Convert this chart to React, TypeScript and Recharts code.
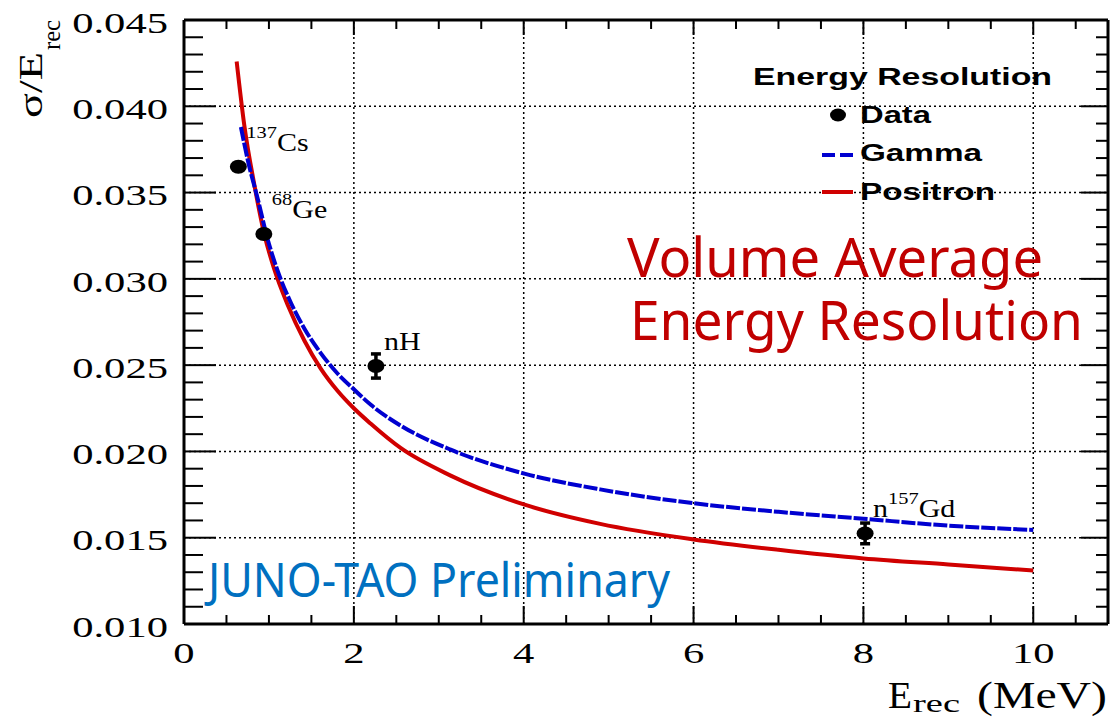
import React from "react"
import {
  ComposedChart,
  Line,
  Scatter,
  XAxis,
  YAxis,
  ReferenceLine,
  ErrorBar
} from "recharts"

const W = 1115
const H = 717

// values (E in MeV, sigma/E)
const positronCurve = [
  { x: 0.62, y: 0.0426 },
  { x: 0.71, y: 0.0389 },
  { x: 0.83, y: 0.0354 },
  { x: 0.945, y: 0.0326 },
  { x: 1.06, y: 0.0306 },
  { x: 1.22, y: 0.0285 },
  { x: 1.42, y: 0.0264 },
  { x: 1.61, y: 0.0248 },
  { x: 1.81, y: 0.0235 },
  { x: 2.0, y: 0.0225 },
  { x: 2.2, y: 0.0216 },
  { x: 2.55, y: 0.0202 },
  { x: 3.14, y: 0.0186 },
  { x: 4.02, y: 0.0169 },
  { x: 4.9, y: 0.0158 },
  { x: 6.0, y: 0.0149 },
  { x: 7.0, y: 0.0143 },
  { x: 8.0, y: 0.0138 },
  { x: 9.0, y: 0.01345 },
  { x: 10.0, y: 0.0131 }
]

const gammaCurve = [
  { x: 0.67, y: 0.0388 },
  { x: 0.75, y: 0.0369 },
  { x: 0.87, y: 0.0346 },
  { x: 0.985, y: 0.0323 },
  { x: 1.1, y: 0.0305 },
  { x: 1.26, y: 0.0286 },
  { x: 1.42, y: 0.0271 },
  { x: 1.61, y: 0.0257 },
  { x: 1.81, y: 0.0245 },
  { x: 2.0, y: 0.0236 },
  { x: 2.2, y: 0.0227 },
  { x: 2.55, y: 0.0215 },
  { x: 3.14, y: 0.0201 },
  { x: 4.02, y: 0.0187 },
  { x: 4.9, y: 0.0178 },
  { x: 6.0, y: 0.017 },
  { x: 7.0, y: 0.0165 },
  { x: 8.0, y: 0.0161 },
  { x: 9.0, y: 0.0157 },
  { x: 10.0, y: 0.01545 }
]

const dataPoints = [
  { x: 0.64, y: 0.0365, err: 0, pre: "", sup: "137", main: "Cs" },
  { x: 0.94, y: 0.0326, err: 0.0002, pre: "", sup: "68", main: "Ge" },
  { x: 2.26, y: 0.02495, err: 0.0007, pre: "", sup: "", main: "nH" },
  { x: 8.02, y: 0.01525, err: 0.0006, pre: "n", sup: "157", main: "Gd" }
]

const xTicks = [0, 0.5, 1, 1.5, 2, 2.5, 3, 3.5, 4, 4.5, 5, 5.5, 6, 6.5, 7, 7.5, 8, 8.5, 9, 9.5, 10, 10.5]
const yTicks = Array.from({ length: 36 }, (_, i) => Math.round((0.01 + i * 0.001) * 1000) / 1000)
const gridX = [2, 4, 6, 8, 10]
const gridY = [0.015, 0.02, 0.025, 0.03, 0.035, 0.04]

const SERIF = "'Liberation Serif', 'Times New Roman', serif"
const SANS = "'Liberation Sans', Arial, sans-serif"
const NOTE = "'Noto Sans', 'Open Sans', sans-serif"

const isMajorX = (v: number) => Math.abs(v / 2 - Math.round(v / 2)) < 1e-6
const isMajorY = (v: number) => Math.round(v * 1000) % 5 === 0

const BottomTick = (props: any) => {
  const { x, y, payload } = props
  const major = isMajorX(payload.value)
  return (
    <g>
      <line x1={x} x2={x} y1={y} y2={y - (major ? 18 : 9)} stroke="#000" strokeWidth={2} />
      {major && (
        <text transform={`translate(${x},${y + 39}) scale(1.42,1)`} textAnchor="middle"
          fontFamily={SERIF} fontSize={30} fill="#000">
          {payload.value}
        </text>
      )}
    </g>
  )
}

const TopTick = (props: any) => {
  const { x, y, payload } = props
  const major = isMajorX(payload.value)
  return <line x1={x} x2={x} y1={y} y2={y + (major ? 15 : 9)} stroke="#000" strokeWidth={2} />
}

const LeftTick = (props: any) => {
  const { x, y, payload } = props
  const major = isMajorY(payload.value)
  return (
    <g>
      <line x1={x} x2={x + (major ? 32 : 19)} y1={y} y2={y} stroke="#000" strokeWidth={2} />
      {major && (
        <text transform={`translate(${x - 16},${y + 2.5}) scale(1.42,1)`} textAnchor="end"
          dominantBaseline="central" fontFamily={SERIF} fontSize={30} fill="#000">
          {payload.value.toFixed(3)}
        </text>
      )}
    </g>
  )
}

const RightTick = (props: any) => {
  const { x, y, payload } = props
  const major = isMajorY(payload.value)
  return <line x1={x} x2={x - (major ? 27 : 12)} y1={y} y2={y} stroke="#000" strokeWidth={2} />
}

// data marker plus its isotope label
const PointShape = (props: any) => {
  const { cx, cy, payload } = props
  return (
    <g>
      <ellipse cx={cx} cy={cy} rx={8.5} ry={7} fill="#000" />
      <text transform={`translate(${cx + 8},${cy - 16}) scale(1.2,1)`} fontFamily={SERIF}
        fontSize={25} fill="#000">
        {payload.pre && <tspan>{payload.pre}</tspan>}
        {payload.sup && <tspan fontSize={17} dy={-13}>{payload.sup}</tspan>}
        <tspan dy={payload.sup ? 13 : 0}>{payload.main}</tspan>
      </text>
    </g>
  )
}

const axisLine = { stroke: "#000", strokeWidth: 3 }

export default function App() {
  return (
    <div style={{ position: "absolute", left: 0, top: 0, width: W, height: H, background: "#fff" }}>
      <ComposedChart width={W} height={H} margin={{ top: 0, right: 0, bottom: 0, left: 0 }}>
        <XAxis xAxisId="b" dataKey="x" type="number" domain={[0, 10.88]} allowDataOverflow
          orientation="bottom" height={93} ticks={xTicks} interval={0} tickSize={0} tickMargin={0}
          tickLine={false} axisLine={axisLine} tick={BottomTick} />
        <XAxis xAxisId="t" dataKey="x" type="number" domain={[0, 10.88]} allowDataOverflow
          orientation="top" height={20} ticks={xTicks} interval={0} tickSize={0} tickMargin={0}
          tickLine={false} axisLine={axisLine} tick={TopTick} />
        <YAxis yAxisId="l" dataKey="y" type="number" domain={[0.01, 0.045]} allowDataOverflow
          orientation="left" width={184} ticks={yTicks} interval={0} tickSize={0} tickMargin={0}
          tickLine={false} axisLine={axisLine} tick={LeftTick} />
        <YAxis yAxisId="r" dataKey="y" type="number" domain={[0.01, 0.045]} allowDataOverflow
          orientation="right" width={7} ticks={yTicks} interval={0} tickSize={0} tickMargin={0}
          tickLine={false} axisLine={axisLine} tick={RightTick} />

        {gridX.map(v => (
          <ReferenceLine key={"gx" + v} xAxisId="b" yAxisId="l" x={v} stroke="#000"
            strokeWidth={1.5} strokeDasharray="2 3" />
        ))}
        {gridY.map(v => (
          <ReferenceLine key={"gy" + v} xAxisId="b" yAxisId="l" y={v} stroke="#000"
            strokeWidth={1.5} strokeDasharray="2 3" />
        ))}

        <Line xAxisId="b" yAxisId="l" data={positronCurve} dataKey="y" name="Positron"
          type="monotone" stroke="#d00000" strokeWidth={4} dot={false} isAnimationActive={false} />
        <Line xAxisId="b" yAxisId="l" data={gammaCurve} dataKey="y" name="Gamma"
          type="monotone" stroke="#0000d0" strokeWidth={4} strokeDasharray="14 2" dot={false}
          isAnimationActive={false} />
        <Scatter xAxisId="b" yAxisId="l" data={dataPoints} dataKey="y" name="Data"
          shape={PointShape} isAnimationActive={false}>
          <ErrorBar dataKey="err" direction="y" width={5} stroke="#000" strokeWidth={3.5}
            isAnimationActive={false} />
        </Scatter>
      </ComposedChart>

      <svg width={W} height={H} style={{ position: "absolute", left: 0, top: 0, pointerEvents: "none" }}>
        {/* axis titles */}
        <g transform="translate(42,118) rotate(-90)">
          <text x={0} y={0} fontFamily={SERIF} fontSize={34} textLength={66} lengthAdjust="spacingAndGlyphs">σ/E</text>
          <text x={68} y={18} fontFamily={SERIF} fontSize={26} textLength={30} lengthAdjust="spacingAndGlyphs">rec</text>
        </g>
        <text x={888} y={708} fontFamily={SERIF} fontSize={37} textLength={24} lengthAdjust="spacingAndGlyphs">E</text>
        <text x={913} y={712} fontFamily={SERIF} fontSize={26} textLength={47} lengthAdjust="spacingAndGlyphs">rec</text>
        <text x={977} y={708} fontFamily={SERIF} fontSize={37} textLength={130} lengthAdjust="spacingAndGlyphs">(MeV)</text>

        {/* legend */}
        <text x={753} y={85} fontFamily={SANS} fontWeight="bold" fontSize={23} textLength={299} lengthAdjust="spacingAndGlyphs">Energy Resolution</text>
        <ellipse cx={838} cy={115} rx={8} ry={6.5} fill="#000" />
        <text x={860} y={123} fontFamily={SANS} fontWeight="bold" fontSize={23} textLength={71} lengthAdjust="spacingAndGlyphs">Data</text>
        <line x1={822} x2={853} y1={155} y2={155} stroke="#0000d0" strokeWidth={4} strokeDasharray="13 5" />
        <text x={860} y={161} fontFamily={SANS} fontWeight="bold" fontSize={23} textLength={122} lengthAdjust="spacingAndGlyphs">Gamma</text>
        <line x1={822} x2={853} y1={192} y2={192} stroke="#d00000" strokeWidth={4} />
        <text x={860} y={200} fontFamily={SANS} fontWeight="bold" fontSize={23} textLength={135} lengthAdjust="spacingAndGlyphs">Positron</text>

        {/* annotations */}
        <text x={627} y={277} fontFamily={NOTE} fontSize={55} fill="#c00000" textLength={416} lengthAdjust="spacingAndGlyphs">Volume Average</text>
        <text x={630} y={340} fontFamily={NOTE} fontSize={55} fill="#c00000" textLength={453} lengthAdjust="spacingAndGlyphs">Energy Resolution</text>
        <text x={208} y={597} fontFamily={NOTE} fontSize={48} fill="#0070c0" textLength={462} lengthAdjust="spacingAndGlyphs">JUNO-TAO Preliminary</text>
      </svg>
    </div>
  )
}
